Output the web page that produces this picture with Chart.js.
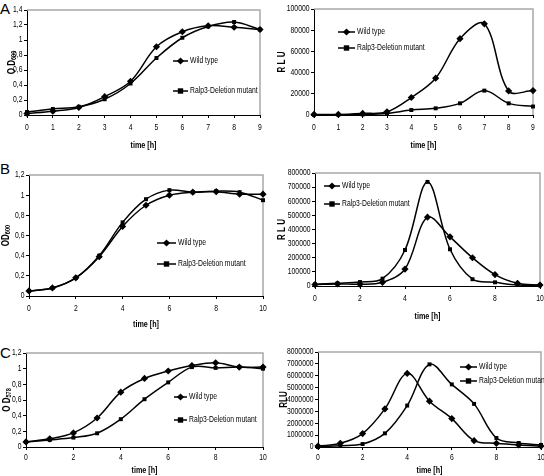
<!DOCTYPE html>
<html>
<head>
<meta charset="utf-8">
<script src="https://cdn.jsdelivr.net/npm/chart.js"></script>
<style>
  html, body { margin: 0; padding: 0; background: #fff; }
  body { width: 544px; height: 476px; position: relative; overflow: hidden; }
  canvas { position: absolute; }
  .tag { position: absolute; font: 15px 'Liberation Sans', Arial, sans-serif; color: #000; }
</style>
</head>
<body>
<div class="tag" style="left:0;top:0">A</div>
<div class="tag" style="left:0;top:160px">B</div>
<div class="tag" style="left:0;top:344px">C</div>
<canvas id="aL"></canvas>
<canvas id="aR"></canvas>
<canvas id="bL"></canvas>
<canvas id="bR"></canvas>
<canvas id="cL"></canvas>
<canvas id="cR"></canvas>
<script>
// hours
const hoursA = [0, 1, 2, 3, 4, 5, 6, 7, 8, 9];
const hoursBC = [0, 1, 2, 3, 4, 5, 6, 7, 8, 9, 10];

// panel A
const odA_wt  = [0.02, 0.05, 0.10, 0.245, 0.45, 0.91, 1.11, 1.19, 1.17, 1.14];
const odA_mut = [0.04, 0.08, 0.11, 0.21, 0.42, 0.76, 1.03, 1.18, 1.24, 1.14];
const rluA_wt  = [500, 500, 1500, 3000, 16500, 34700, 72000, 86000, 22700, 23000];
const rluA_mut = [300, 300, 500, 1500, 4700, 6300, 11000, 23000, 11000, 8000];

// panel B
const odB_wt  = [0.05, 0.08, 0.18, 0.39, 0.69, 0.90, 1.00, 1.03, 1.035, 1.01, 1.01];
const odB_mut = [0.05, 0.08, 0.18, 0.40, 0.73, 0.96, 1.05, 1.03, 1.04, 1.03, 0.95];
const rluB_wt  = [10000, 15000, 12000, 26000, 120000, 487000, 348000, 200000, 81000, 19000, 7000];
const rluB_mut = [12000, 19000, 28000, 52000, 255000, 737000, 260000, 48000, 26000, 7000, 5000];

// panel C
const odC_wt  = [0.065, 0.105, 0.18, 0.37, 0.70, 0.875, 0.97, 1.04, 1.075, 1.02, 1.02];
const odC_mut = [0.065, 0.09, 0.12, 0.175, 0.355, 0.61, 0.825, 1.02, 1.01, 1.02, 1.0];
const rluC_wt  = [80000, 310000, 1130000, 3210000, 6200000, 3860000, 2390000, 535000, 310000, 170000, 80000];
const rluC_mut = [0, 110000, 250000, 1150000, 3490000, 6960000, 5270000, 3630000, 760000, 340000, 170000];

const seriesNames = ['Wild type', 'Ralp3-Deletion mutant'];
const xTitle = 'time [h]';

const FONT = "'Liberation Sans', Arial, sans-serif";
const SQUEEZE = 0.8;   // fake a narrow face

function pts(xs, ys) {
    return xs.map((x, i) => ({ x: x, y: ys[i] }));
}

// narrow text: squeeze horizontally around the anchor
function ntext(ctx, str, x, y, align, font, sub) {
    ctx.save();
    ctx.font = font;
    ctx.fillStyle = '#000';
    ctx.textBaseline = 'middle';
    ctx.textAlign = align;
    ctx.translate(x, y);
    ctx.scale(SQUEEZE, 1);
    ctx.fillText(str, 0, 0);
    ctx.restore();
}

function marker(ctx, style, x, y) {
    ctx.beginPath();
    if (style === 'rectRot') {
        const r = 3.6;
        ctx.moveTo(x, y - r); ctx.lineTo(x + r, y); ctx.lineTo(x, y + r); ctx.lineTo(x - r, y);
    } else {
        const r = 2.7;
        ctx.rect(x - r, y - r, 2 * r, 2 * r);
    }
    ctx.closePath();
    ctx.fill();
}

// gray frame, tick labels, in-plot legend, titles
const extras = {
    id: 'extras',
    beforeDatasetsDraw(chart, args, o) {
        const { ctx, chartArea: a } = chart;
        ctx.save();
        ctx.strokeStyle = '#a8a8a8';
        ctx.lineWidth = 1.5;
        ctx.beginPath();
        ctx.moveTo(a.left, a.top);
        ctx.lineTo(a.right, a.top);
        ctx.lineTo(a.right, a.bottom);
        ctx.stroke();
        ctx.restore();
    },
    afterDraw(chart, args, o) {
        const ctx = chart.ctx;
        const a = chart.chartArea;
        const sx = chart.scales.x, sy = chart.scales.y;
        const tf = '8.5px ' + FONT;

        // tick labels
        sx.ticks.forEach(t => {
            ntext(ctx, String(t.value), sx.getPixelForValue(t.value), a.bottom + o.xLab, 'center', tf);
        });
        sy.ticks.forEach(t => {
            const s = o.od ? String(Math.round(t.value * 10) / 10).replace('.', ',')
                           : String(Math.round(t.value));
            ntext(ctx, s, a.left - 4.5, sy.getPixelForValue(t.value), 'right', tf);
        });

        // x title
        ntext(ctx, xTitle, (a.left + a.right) / 2, o.xTitleY, 'center', 'bold 9px ' + FONT);

        // legend
        ctx.save();
        chart.data.datasets.forEach((ds, i) => {
            const y = o.legY[i];
            const x = o.legX;
            ctx.strokeStyle = '#000';
            ctx.lineWidth = 1.5;
            ctx.beginPath();
            ctx.moveTo(x, y);
            ctx.lineTo(x + o.legLen, y);
            ctx.stroke();
            ctx.fillStyle = '#000';
            marker(ctx, ds.pointStyle, x + o.legLen / 2, y);
            ntext(ctx, ds.label, x + o.legLen + 2, y, 'left', '8.5px ' + FONT);
        });
        ctx.restore();

        // y title, rotated, optional subscript
        ctx.save();
        ctx.translate(o.titleX, (a.top + a.bottom) / 2);
        ctx.rotate(-Math.PI / 2);
        ctx.scale(SQUEEZE, 1);
        ctx.fillStyle = '#000';
        ctx.textBaseline = 'middle';
        ctx.textAlign = 'left';
        ctx.font = 'bold 10px ' + FONT;
        const w1 = ctx.measureText(o.title).width;
        let w2 = 0;
        if (o.sub) {
            ctx.font = 'bold 7px ' + FONT;
            w2 = ctx.measureText(o.sub).width;
        }
        const x0 = -(w1 + w2) / 2;
        ctx.font = 'bold 10px ' + FONT;
        ctx.fillText(o.title, x0, 0);
        if (o.sub) {
            ctx.font = 'bold 7px ' + FONT;
            ctx.fillText(o.sub, x0 + w1, 2.5);
        }
        ctx.restore();
    }
};

function makeChart(id, p) {
    const cv = document.getElementById(id);
    cv.style.left = p.x + 'px';
    cv.style.top = p.y + 'px';
    cv.width = p.w;
    cv.height = p.h;
    cv.style.width = p.w + 'px';
    cv.style.height = p.h + 'px';

    return new Chart(cv.getContext('2d'), {
        type: 'line',
        data: {
            datasets: [
                {
                    label: seriesNames[0],
                    data: pts(p.xs, p.wt),
                    pointStyle: 'rectRot',
                    pointRadius: 3.6,
                },
                {
                    label: seriesNames[1],
                    data: pts(p.xs, p.mut),
                    pointStyle: 'rect',
                    pointRadius: 2.8,
                }
            ].map(d => Object.assign(d, {
                borderColor: '#000',
                backgroundColor: '#000',
                pointBackgroundColor: '#000',
                pointBorderColor: '#000',
                pointBorderWidth: 0,
                borderWidth: 1.5,
                tension: 0.35,
                clip: false,
            }))
        },
        options: {
            responsive: false,
            animation: false,
            events: [],
            layout: { padding: { left: 0, top: p.top, right: p.w - p.right, bottom: 0 } },
            scales: {
                x: {
                    type: 'linear',
                    min: 0,
                    max: p.xs[p.xs.length - 1],
                    afterFit: s => { s.height = p.h - p.bottom; },
                    ticks: { stepSize: p.xStep, display: false },
                    grid: { drawOnChartArea: false, tickLength: 3, color: '#000' },
                    border: { color: '#000', width: 1 }
                },
                y: {
                    min: 0,
                    max: p.yMax,
                    afterFit: s => { s.width = p.left; },
                    ticks: { stepSize: p.yStep, display: false },
                    grid: { drawOnChartArea: false, tickLength: 3, color: '#000' },
                    border: { color: '#000', width: 1 }
                }
            },
            plugins: {
                legend: { display: false },
                tooltip: { enabled: false },
                extras: p.extras
            }
        },
        plugins: [extras]
    });
}

makeChart('aL', { x: 0, y: 0, w: 272, h: 158, left: 27, top: 10, right: 260, bottom: 115,
    xs: hoursA, wt: odA_wt, mut: odA_mut, yMax: 1.4, yStep: 0.2, xStep: 1,
    extras: { od: true, xLab: 13, xTitleY: 146, legX: 173, legY: [61, 91], legLen: 15,
              titleX: 12, title: 'O D', sub: '600' } });

makeChart('aR', { x: 272, y: 0, w: 272, h: 158, left: 42, top: 9, right: 261, bottom: 115,
    xs: hoursA, wt: rluA_wt, mut: rluA_mut, yMax: 100000, yStep: 20000, xStep: 1,
    extras: { od: false, xLab: 13, xTitleY: 146, legX: 66, legY: [32, 48], legLen: 17,
              titleX: 10, title: 'R L U' } });

makeChart('bL', { x: 0, y: 160, w: 272, h: 171, left: 29, top: 15, right: 263, bottom: 136,
    xs: hoursBC, wt: odB_wt, mut: odB_mut, yMax: 1.2, yStep: 0.2, xStep: 2,
    extras: { od: true, xLab: 13, xTitleY: 165, legX: 157, legY: [83, 104], legLen: 19,
              titleX: 6, title: 'OD', sub: '600' } });

makeChart('bR', { x: 272, y: 160, w: 290, h: 165, left: 43, top: 13, right: 268, bottom: 126,
    xs: hoursBC, wt: rluB_wt, mut: rluB_mut, yMax: 800000, yStep: 100000, xStep: 2,
    extras: { od: false, xLab: 13, xTitleY: 157, legX: 52, legY: [26, 44], legLen: 16,
              titleX: 10, title: 'R L U' } });

makeChart('cL', { x: 0, y: 336, w: 272, h: 141, left: 26, top: 17, right: 263, bottom: 111,
    xs: hoursBC, wt: odC_wt, mut: odC_mut, yMax: 1.2, yStep: 0.2, xStep: 2,
    extras: { od: true, xLab: 11, xTitleY: 135, legX: 174, legY: [61, 84], legLen: 13,
              titleX: 7, title: 'O D', sub: '578' } });

makeChart('cR', { x: 272, y: 336, w: 290, h: 141, left: 46, top: 16, right: 269, bottom: 111,
    xs: hoursBC, wt: rluC_wt, mut: rluC_mut, yMax: 8000000, yStep: 1000000, xStep: 2,
    extras: { od: false, xLab: 11, xTitleY: 135, legX: 188, legY: [31, 45], legLen: 17,
              titleX: 12, title: 'RLU' } });
</script>
</body>
</html>
